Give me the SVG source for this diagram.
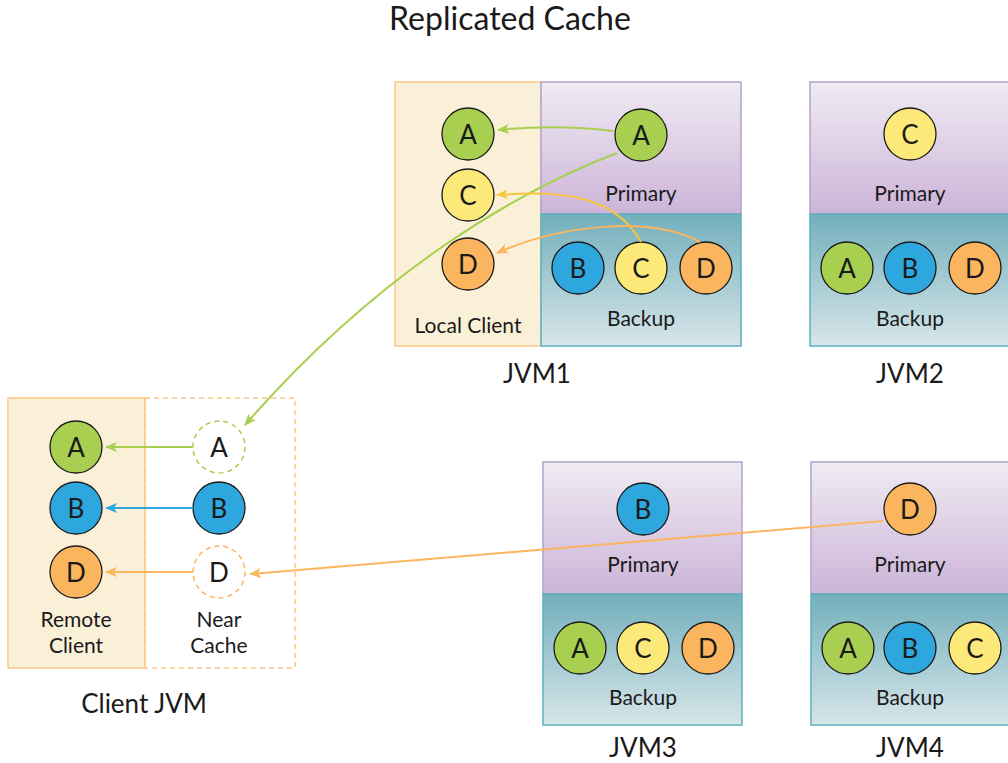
<svg xmlns="http://www.w3.org/2000/svg" width="1008" height="763" viewBox="0 0 1008 763">
<style>
text{font-family:Lato,"Noto Sans","Liberation Sans",sans-serif;fill:#1a1a1a;text-anchor:middle}
.t{font-size:21px}
.big{font-size:26px}
.ttl{font-size:32px}
.c{stroke:#1a1a1a;stroke-width:1.3}
.ga{fill:#a8cf4f}.yc{fill:#fde97a}.od{fill:#fbb55e}.bb{fill:#2ea7de}
.lt{font-size:26px;dominant-baseline:central}
.pri{fill:url(#gp);stroke:#b3a3cc;stroke-width:1.5}
.bak{fill:url(#gb);stroke:#5ab0bd;stroke-width:1.5}
.cli{fill:#faf0d8;stroke:#fbc788;stroke-width:1.5}
.ln{fill:none;stroke-width:2}
</style>
<defs>
<linearGradient id="gp" x1="0" y1="0" x2="0" y2="1"><stop offset="0" stop-color="#efebf3"/><stop offset="1" stop-color="#cdb4d8"/></linearGradient>
<linearGradient id="gb" x1="0" y1="0" x2="0" y2="1"><stop offset="0" stop-color="#72afbc"/><stop offset="1" stop-color="#d7e6e9"/></linearGradient>
<marker id="mg" viewBox="0 0 12 10" refX="11" refY="5" markerWidth="12" markerHeight="10" markerUnits="userSpaceOnUse" orient="auto"><path d="M0,0 L12,5 L0,10 L3,5 Z" fill="#a8cf4f"/></marker>
<marker id="my" viewBox="0 0 12 10" refX="11" refY="5" markerWidth="12" markerHeight="10" markerUnits="userSpaceOnUse" orient="auto"><path d="M0,0 L12,5 L0,10 L3,5 Z" fill="#f8c540"/></marker>
<marker id="mo" viewBox="0 0 12 10" refX="11" refY="5" markerWidth="12" markerHeight="10" markerUnits="userSpaceOnUse" orient="auto"><path d="M0,0 L12,5 L0,10 L3,5 Z" fill="#fbb55e"/></marker>
<marker id="mb" viewBox="0 0 12 10" refX="11" refY="5" markerWidth="12" markerHeight="10" markerUnits="userSpaceOnUse" orient="auto"><path d="M0,0 L12,5 L0,10 L3,5 Z" fill="#2ea7de"/></marker>
</defs>
<rect width="1008" height="763" fill="#fff"/>
<text class="ttl" x="510" y="30">Replicated Cache</text>

<g id="jvm1">
<rect class="cli" x="395" y="82" width="146" height="264"/>
<rect class="pri" x="541" y="82" width="200" height="132"/>
<rect class="bak" x="541" y="214" width="200" height="132"/>
<circle class="c ga" cx="641" cy="135" r="26"/><text class="lt" x="641" y="135">A</text>
<text class="t" x="641" y="201">Primary</text>
<circle class="c bb" cx="578" cy="268" r="26"/><text class="lt" x="578" y="268">B</text>
<circle class="c yc" cx="641" cy="268" r="26"/><text class="lt" x="641" y="268">C</text>
<circle class="c od" cx="706" cy="268" r="26"/><text class="lt" x="706" y="268">D</text>
<text class="t" x="641" y="326">Backup</text>
<circle class="c ga" cx="468" cy="134" r="26"/><text class="lt" x="468" y="134">A</text>
<circle class="c yc" cx="468" cy="195" r="26"/><text class="lt" x="468" y="195">C</text>
<circle class="c od" cx="468" cy="264" r="26"/><text class="lt" x="468" y="264">D</text>
<text class="t" x="468" y="333">Local Client</text>
<text class="big" x="537" y="383">JVM1</text>
</g>

<g id="jvm2">
<rect class="pri" x="810" y="82" width="202" height="132"/>
<rect class="bak" x="810" y="214" width="202" height="132"/>
<circle class="c yc" cx="910" cy="134" r="26"/><text class="lt" x="910" y="134">C</text>
<text class="t" x="910" y="201">Primary</text>
<circle class="c ga" cx="847" cy="268" r="26"/><text class="lt" x="847" y="268">A</text>
<circle class="c bb" cx="910" cy="268" r="26"/><text class="lt" x="910" y="268">B</text>
<circle class="c od" cx="975" cy="268" r="26"/><text class="lt" x="975" y="268">D</text>
<text class="t" x="910" y="326">Backup</text>
<text class="big" x="910" y="383">JVM2</text>
</g>

<g id="jvm3">
<rect class="pri" x="543" y="462" width="199" height="132"/>
<rect class="bak" x="543" y="594" width="199" height="131"/>
<circle class="c bb" cx="643" cy="509" r="26"/><text class="lt" x="643" y="509">B</text>
<text class="t" x="643" y="572">Primary</text>
<circle class="c ga" cx="580" cy="648" r="26"/><text class="lt" x="580" y="648">A</text>
<circle class="c yc" cx="643" cy="648" r="26"/><text class="lt" x="643" y="648">C</text>
<circle class="c od" cx="708" cy="648" r="26"/><text class="lt" x="708" y="648">D</text>
<text class="t" x="643" y="705">Backup</text>
<text class="big" x="643" y="757">JVM3</text>
</g>

<g id="jvm4">
<rect class="pri" x="811" y="462" width="201" height="132"/>
<rect class="bak" x="811" y="594" width="201" height="131"/>
<circle class="c od" cx="910" cy="509" r="26"/><text class="lt" x="910" y="509">D</text>
<text class="t" x="910" y="572">Primary</text>
<circle class="c ga" cx="848" cy="648" r="26"/><text class="lt" x="848" y="648">A</text>
<circle class="c bb" cx="910" cy="648" r="26"/><text class="lt" x="910" y="648">B</text>
<circle class="c yc" cx="975" cy="648" r="26"/><text class="lt" x="975" y="648">C</text>
<text class="t" x="910" y="705">Backup</text>
<text class="big" x="910" y="757">JVM4</text>
</g>

<g id="clientjvm">
<rect class="cli" x="8" y="398" width="137" height="270"/>
<rect x="145" y="398" width="150" height="270" fill="none" stroke="#fbc788" stroke-width="1.5" stroke-dasharray="5,4"/>
<circle class="c ga" cx="76" cy="447" r="26"/><text class="lt" x="76" y="447">A</text>
<circle class="c bb" cx="76" cy="508" r="26"/><text class="lt" x="76" y="508">B</text>
<circle class="c od" cx="76" cy="572" r="26"/><text class="lt" x="76" y="572">D</text>
<text class="t" x="76" y="627">Remote</text>
<text class="t" x="76" y="653">Client</text>
<circle cx="219" cy="447" r="26" fill="#fff" stroke="#a8cf4f" stroke-width="1.5" stroke-dasharray="5,4"/><text class="lt" x="219" y="447">A</text>
<circle class="c bb" cx="219" cy="508" r="26"/><text class="lt" x="219" y="508">B</text>
<circle cx="219" cy="572" r="26" fill="#fff" stroke="#fbb55e" stroke-width="1.5" stroke-dasharray="5,4"/><text class="lt" x="219" y="572">D</text>
<text class="t" x="219" y="627">Near</text>
<text class="t" x="219" y="653">Cache</text>
<text class="big" x="144" y="713">Client JVM</text>
</g>

<g id="connectors">
<path class="ln" stroke="#a8cf4f" marker-end="url(#mg)" d="M613,131 Q556,124 498,130"/>
<path class="ln" stroke="#a8cf4f" marker-end="url(#mg)" d="M617,153 C520,190 380,270 245,425"/>
<path class="ln" stroke="#f8c540" marker-end="url(#my)" d="M641,242 C615,195 560,190 497,195"/>
<path class="ln" stroke="#fbb55e" marker-end="url(#mo)" d="M700,242 C650,215 560,225 497,253"/>
<path class="ln" stroke="#a8cf4f" marker-end="url(#mg)" d="M193,447 L106,447"/>
<path class="ln" stroke="#2ea7de" marker-end="url(#mb)" d="M193,508 L106,508"/>
<path class="ln" stroke="#fbb55e" marker-end="url(#mo)" d="M193,572 L106,572"/>
<path class="ln" stroke="#fbb55e" marker-end="url(#mo)" d="M883,521 L250,574"/>
</g>
</svg>
